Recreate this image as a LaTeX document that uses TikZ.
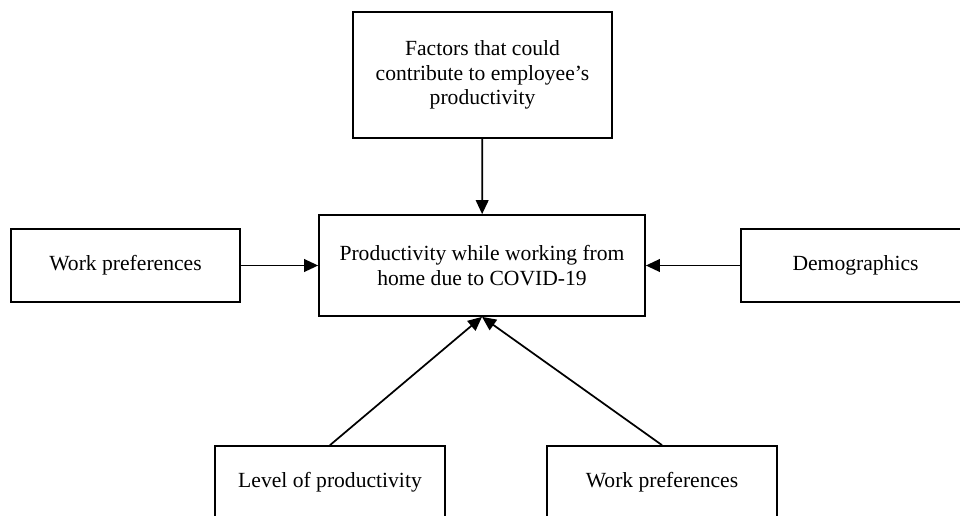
\documentclass[tikz,border=0pt]{standalone}
\usepackage{fontspec}
\setmainfont{Liberation Serif}
\usetikzlibrary{arrows.meta}

\begin{document}
\begin{tikzpicture}[x=0.75pt, y=-0.75pt, >={Triangle[length=10.5pt,width=9.5pt]},
        box/.style={draw, line width=1.3pt, align=center, inner sep=0pt,
            font=\fontsize{16.2}{18.6}\selectfont},
        link/.style={->, line width=1.3pt}]
        % --- 1. Parameters ---
        \def\px{0.75pt}
        \def\sideW{229}
        \def\sideH{73}
        % Canvas (boxes at the border are cut off)
        \clip (0,0) rectangle (960,515);
        % --- 2. Boxes ---
        \node[box, minimum width=259*\px, minimum height=126*\px] (factors) at (482.5,75)
            {Factors that could\\contribute to employee’s\\productivity};
        \node[box, minimum width=326*\px, minimum height=101*\px] (prod) at (482,265.5)
            {Productivity while working from\\home due to COVID-19};
        \node[box, minimum width=\sideW*\px, minimum height=\sideH*\px] (prefL) at (125.5,265.5)
            {Work preferences};
        \node[box, minimum width=\sideW*\px, minimum height=\sideH*\px] (demo) at (855.5,265.5)
            {Demographics};
        \node[box, minimum width=230*\px, minimum height=\sideH*\px] (level) at (330,482.5)
            {Level of productivity};
        \node[box, minimum width=230*\px, minimum height=\sideH*\px] (prefB) at (662,482.5)
            {Work preferences};
        % --- 3. Arrows ---
        \draw[link] (factors) -- (prod);
        \draw[link] (prefL) -- (prod);
        \draw[link] (demo) -- (prod);
        \draw[link] (level.north) -- (prod.south);
        \draw[link] (prefB.north) -- (prod.south);
    \end{tikzpicture}
\end{document}
